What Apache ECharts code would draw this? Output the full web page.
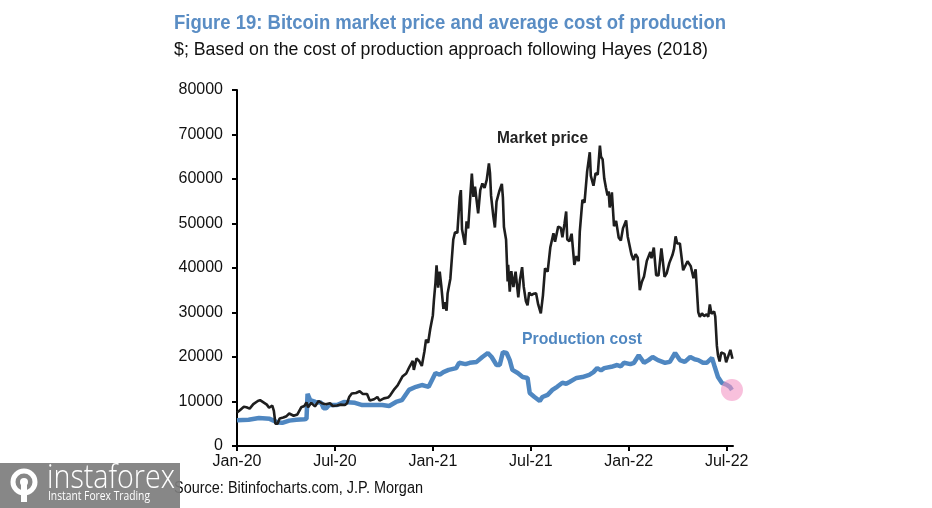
<!DOCTYPE html>
<html><head><meta charset="utf-8">
<script src="https://cdn.jsdelivr.net/npm/echarts@6/dist/echarts.min.js"></script>
<style>html,body{margin:0;padding:0;background:#fff}#c{width:932px;height:508px}</style>
</head><body><div id="c"></div>
<script>
const titleText = "Figure 19: Bitcoin market price and average cost of production";
const subtitleText = "$; Based on the cost of production approach following Hayes (2018)";
const sourceText = "Source: Bitinfocharts.com, J.P. Morgan";
const xTickLabels = ["Jan-20","Jul-20","Jan-21","Jul-21","Jan-22","Jul-22"];
const xTickMonths = [0,6,12,18,24,30];
const yTicks = [0,10000,20000,30000,40000,50000,60000,70000,80000];

const priceDates = ["2020-01-01","2020-01-07","2020-01-14","2020-01-19","2020-01-25","2020-02-01","2020-02-09","2020-02-13","2020-02-19","2020-02-25","2020-02-29","2020-03-06","2020-03-09","2020-03-12","2020-03-16","2020-03-20","2020-03-27","2020-04-02","2020-04-07","2020-04-15","2020-04-22","2020-04-29","2020-05-05","2020-05-09","2020-05-12","2020-05-18","2020-05-25","2020-06-01","2020-06-07","2020-06-14","2020-06-22","2020-06-27","2020-07-05","2020-07-12","2020-07-20","2020-07-24","2020-07-28","2020-08-02","2020-08-10","2020-08-17","2020-08-23","2020-08-31","2020-09-03","2020-09-05","2020-09-13","2020-09-19","2020-09-23","2020-10-01","2020-10-09","2020-10-13","2020-10-21","2020-10-27","2020-11-05","2020-11-12","2020-11-18","2020-11-24","2020-11-26","2020-12-01","2020-12-06","2020-12-11","2020-12-16","2020-12-19","2020-12-23","2020-12-27","2021-01-01","2021-01-03","2021-01-06","2021-01-08","2021-01-11","2021-01-14","2021-01-17","2021-01-21","2021-01-24","2021-01-27","2021-01-29","2021-02-03","2021-02-08","2021-02-11","2021-02-15","2021-02-19","2021-02-21","2021-02-23","2021-02-28","2021-03-03","2021-03-06","2021-03-10","2021-03-13","2021-03-16","2021-03-19","2021-03-25","2021-03-29","2021-04-02","2021-04-06","2021-04-10","2021-04-14","2021-04-16","2021-04-18","2021-04-22","2021-04-25","2021-04-28","2021-05-03","2021-05-08","2021-05-10","2021-05-12","2021-05-16","2021-05-19","2021-05-20","2021-05-23","2021-05-26","2021-05-30","2021-06-03","2021-06-08","2021-06-11","2021-06-15","2021-06-18","2021-06-22","2021-06-25","2021-06-28","2021-07-02","2021-07-06","2021-07-11","2021-07-15","2021-07-20","2021-07-24","2021-07-28","2021-08-02","2021-08-07","2021-08-13","2021-08-16","2021-08-22","2021-08-27","2021-08-30","2021-09-03","2021-09-06","2021-09-08","2021-09-12","2021-09-16","2021-09-21","2021-09-25","2021-09-29","2021-10-01","2021-10-06","2021-10-10","2021-10-15","2021-10-20","2021-10-22","2021-10-27","2021-10-31","2021-11-04","2021-11-08","2021-11-10","2021-11-13","2021-11-16","2021-11-19","2021-11-22","2021-11-24","2021-11-26","2021-11-30","2021-12-04","2021-12-08","2021-12-13","2021-12-17","2021-12-21","2021-12-27","2021-12-30","2022-01-02","2022-01-06","2022-01-10","2022-01-14","2022-01-18","2022-01-22","2022-01-26","2022-01-30","2022-02-04","2022-02-10","2022-02-12","2022-02-16","2022-02-20","2022-02-24","2022-03-01","2022-03-03","2022-03-07","2022-03-11","2022-03-16","2022-03-22","2022-03-25","2022-03-28","2022-03-31","2022-04-05","2022-04-11","2022-04-15","2022-04-19","2022-04-25","2022-04-30","2022-05-04","2022-05-06","2022-05-09","2022-05-12","2022-05-16","2022-05-20","2022-05-25","2022-05-28","2022-05-31","2022-06-03","2022-06-08","2022-06-10","2022-06-13","2022-06-15","2022-06-18","2022-06-21","2022-06-24","2022-06-27","2022-06-30","2022-07-04","2022-07-08","2022-07-12"];
const priceValues = [7500,8100,8800,8700,8400,9400,10100,10300,9800,9300,8600,9100,7900,5000,5000,6200,6400,6700,7300,6800,7100,8700,9000,9800,8700,9700,8900,10100,9600,9400,9600,9000,9100,9300,9200,9600,11000,11800,11900,12300,11700,11700,11400,10200,10500,11000,10200,10700,10900,11400,12800,13600,15600,16300,17800,19100,17100,19700,19100,18000,21300,23900,23200,26300,29400,32800,36800,40600,35600,39200,36000,30800,32300,30400,34300,37600,46400,48000,47900,55900,57500,48700,45200,50500,48900,55900,61200,56000,58300,52300,57500,59000,58000,59800,63500,61300,56200,51700,49100,54900,57200,58900,55800,49200,46400,37000,40700,34700,39300,35700,39200,33400,37300,40200,35800,32500,31600,34500,33900,34200,34300,31800,29800,33800,39900,39200,44600,47800,45900,49300,49000,46900,50000,52700,46400,46000,47700,40700,42700,41500,48100,55300,54700,61700,66000,60700,58500,61300,61000,67500,65000,64400,60100,58100,56300,57200,53600,57000,49400,50600,46800,46200,48900,50700,47100,47300,43100,41800,43100,42300,35000,36900,38100,41600,43600,42200,44600,38400,38300,44400,42400,38000,38800,41100,42900,44300,47100,45500,45500,39500,40500,41500,40400,37700,39700,36000,30100,29000,29800,29200,29600,29000,31800,29700,30200,29100,22500,20400,19000,21000,21200,20700,18800,20200,21600,19600];

const costDates = ["2020-01-01","2020-01-23","2020-02-11","2020-03-01","2020-03-16","2020-03-25","2020-04-07","2020-04-20","2020-05-05","2020-05-09","2020-05-11","2020-05-16","2020-05-26","2020-06-06","2020-06-10","2020-06-15","2020-06-20","2020-07-05","2020-07-18","2020-08-08","2020-08-22","2020-09-03","2020-09-28","2020-10-11","2020-10-24","2020-11-04","2020-11-17","2020-11-30","2020-12-11","2020-12-24","2021-01-06","2021-01-14","2021-01-21","2021-01-31","2021-02-13","2021-02-18","2021-03-01","2021-03-09","2021-03-22","2021-04-02","2021-04-12","2021-04-19","2021-04-28","2021-05-04","2021-05-10","2021-05-17","2021-05-23","2021-05-28","2021-06-07","2021-06-16","2021-06-25","2021-06-29","2021-07-08","2021-07-18","2021-07-23","2021-08-02","2021-08-11","2021-08-20","2021-08-30","2021-09-06","2021-09-12","2021-09-25","2021-10-06","2021-10-19","2021-10-27","2021-11-03","2021-11-10","2021-11-16","2021-11-29","2021-12-10","2021-12-17","2021-12-23","2022-01-04","2022-01-11","2022-01-20","2022-01-30","2022-02-07","2022-02-14","2022-02-23","2022-03-08","2022-03-17","2022-03-27","2022-04-05","2022-04-14","2022-04-24","2022-05-02","2022-05-09","2022-05-18","2022-05-25","2022-06-04","2022-06-09","2022-06-15","2022-06-22","2022-07-02","2022-07-07","2022-07-11"];
const costValues = [5800,5900,6300,6100,5300,5200,5700,5900,6000,6100,11700,10300,9900,9700,8500,8500,9200,9200,9900,9700,9200,9200,9200,9000,9900,10300,12600,13300,13700,13300,16400,16000,16600,17100,17500,18700,18400,18700,18900,20000,20900,20000,18200,18200,21100,20900,19300,17100,16400,15500,15300,11900,11000,10100,11000,11500,12600,13300,14200,14000,14400,15300,15500,16000,16600,17500,17000,17500,17800,18200,17900,18700,18400,18700,20400,18700,19300,20000,19300,18700,18900,20900,19300,18900,20000,19500,19300,18700,18700,19800,17800,15500,14200,13700,13300,12600];

function toM(s){const p=s.split('-').map(Number);const dim=new Date(p[0],p[1],0).getDate();return (p[0]-2020)*12+(p[1]-1)+(p[2]-1)/dim;}
const priceData = priceDates.map((d,i)=>[toM(d),priceValues[i]]);
const costData = costDates.map((d,i)=>[toM(d),costValues[i]]);
const lastCost = [costData[costData.length-1]];
const xMax = toM("2022-07-13");

const FONT = "'Liberation Sans', Arial, sans-serif";
const BLUE = "#4f87c1";
const mctx = document.createElement('canvas').getContext('2d');
function fitScale(text, font, w){mctx.font = font; return w / mctx.measureText(text).width;}

const titleFont = "bold 21px " + FONT;
const subFont = "18px " + FONT;
const srcFont = "16px " + FONT;
const mpFont = "bold 16px " + FONT;
const pcFont = "bold 17px " + FONT;
const logoFont = "300 33px 'Open Sans', 'Lato', sans-serif";
const logoSubFont = "12px 'Open Sans', sans-serif";

const chart = echarts.init(document.getElementById('c'), null, {renderer:'canvas'});
chart.setOption({
  animation:false,
  backgroundColor:'#fff',
  grid:{left:237,right:199,top:90,bottom:62,containLabel:false},
  xAxis:{type:'value',min:0,max:xMax,interval:6,
    axisLine:{show:true,lineStyle:{color:'#000',width:2}},
    axisTick:{show:true,length:5,lineStyle:{color:'#000',width:2},customValues:xTickMonths},
    axisLabel:{customValues:xTickMonths,margin:8,fontSize:16,color:'#111',fontFamily:FONT,
      formatter:v=>{const i=xTickMonths.indexOf(Math.round(v));return i>=0?xTickLabels[i]:'';}},
    splitLine:{show:false}},
  yAxis:{type:'value',min:yTicks[0],max:yTicks[yTicks.length-1],interval:10000,
    axisLine:{show:true,lineStyle:{color:'#000',width:2}},
    axisTick:{show:true,length:5,lineStyle:{color:'#000',width:2}},
    axisLabel:{margin:14,fontSize:16,color:'#111',fontFamily:FONT,formatter:v=>String(v)},
    splitLine:{show:false}},
  series:[
    {type:'line',name:'Production cost',data:costData,showSymbol:false,z:2,
      lineStyle:{color:BLUE,width:4.5}},
    {type:'line',name:'Market price',data:priceData,showSymbol:false,z:3,
      lineStyle:{color:'#1e1e1e',width:2.6}},
    {type:'scatter',data:lastCost,symbolSize:22,z:4,
      itemStyle:{color:'rgba(244,150,196,0.75)'}}
  ],
  graphic:[
    {type:'text',x:174,y:13,scaleX:fitScale(titleText,titleFont,552),style:{text:titleText,font:titleFont,fill:'#5a8dc4'}},
    {type:'text',x:174,y:41,scaleX:fitScale(subtitleText,subFont,534),style:{text:subtitleText,font:subFont,fill:'#111'}},
    {type:'text',x:497,y:131,scaleX:fitScale('Market price',mpFont,91),style:{text:'Market price',font:mpFont,fill:'#222'}},
    {type:'text',x:522,y:331,scaleX:fitScale('Production cost',pcFont,120),style:{text:'Production cost',font:pcFont,fill:BLUE}},
    {type:'text',x:174,y:481,scaleX:fitScale(sourceText,srcFont,249),style:{text:sourceText,font:srcFont,fill:'#111'}},
    {type:'group',x:0,y:463,z:100,children:[
      {type:'rect',shape:{x:0,y:0,width:180,height:45},style:{fill:'rgba(125,125,125,0.92)'}},
      {type:'circle',shape:{cx:24,cy:19,r:11},style:{fill:'none',stroke:'#fff',lineWidth:5}},
      {type:'circle',shape:{cx:24,cy:19,r:4},style:{fill:'#fff'}},
      {type:'rect',shape:{x:21,y:21,width:6,height:18},style:{fill:'#fff'}},
      {type:'text',x:47,y:-1,scaleX:fitScale('instaforex',logoFont,128),style:{text:'instaforex',font:logoFont,fill:'#fff'}},
      {type:'text',x:48,y:28,scaleX:fitScale('Instant Forex Trading',logoSubFont,102),style:{text:'Instant Forex Trading',font:logoSubFont,fill:'#fff'}}
    ]}
  ]
});
</script></body></html>
